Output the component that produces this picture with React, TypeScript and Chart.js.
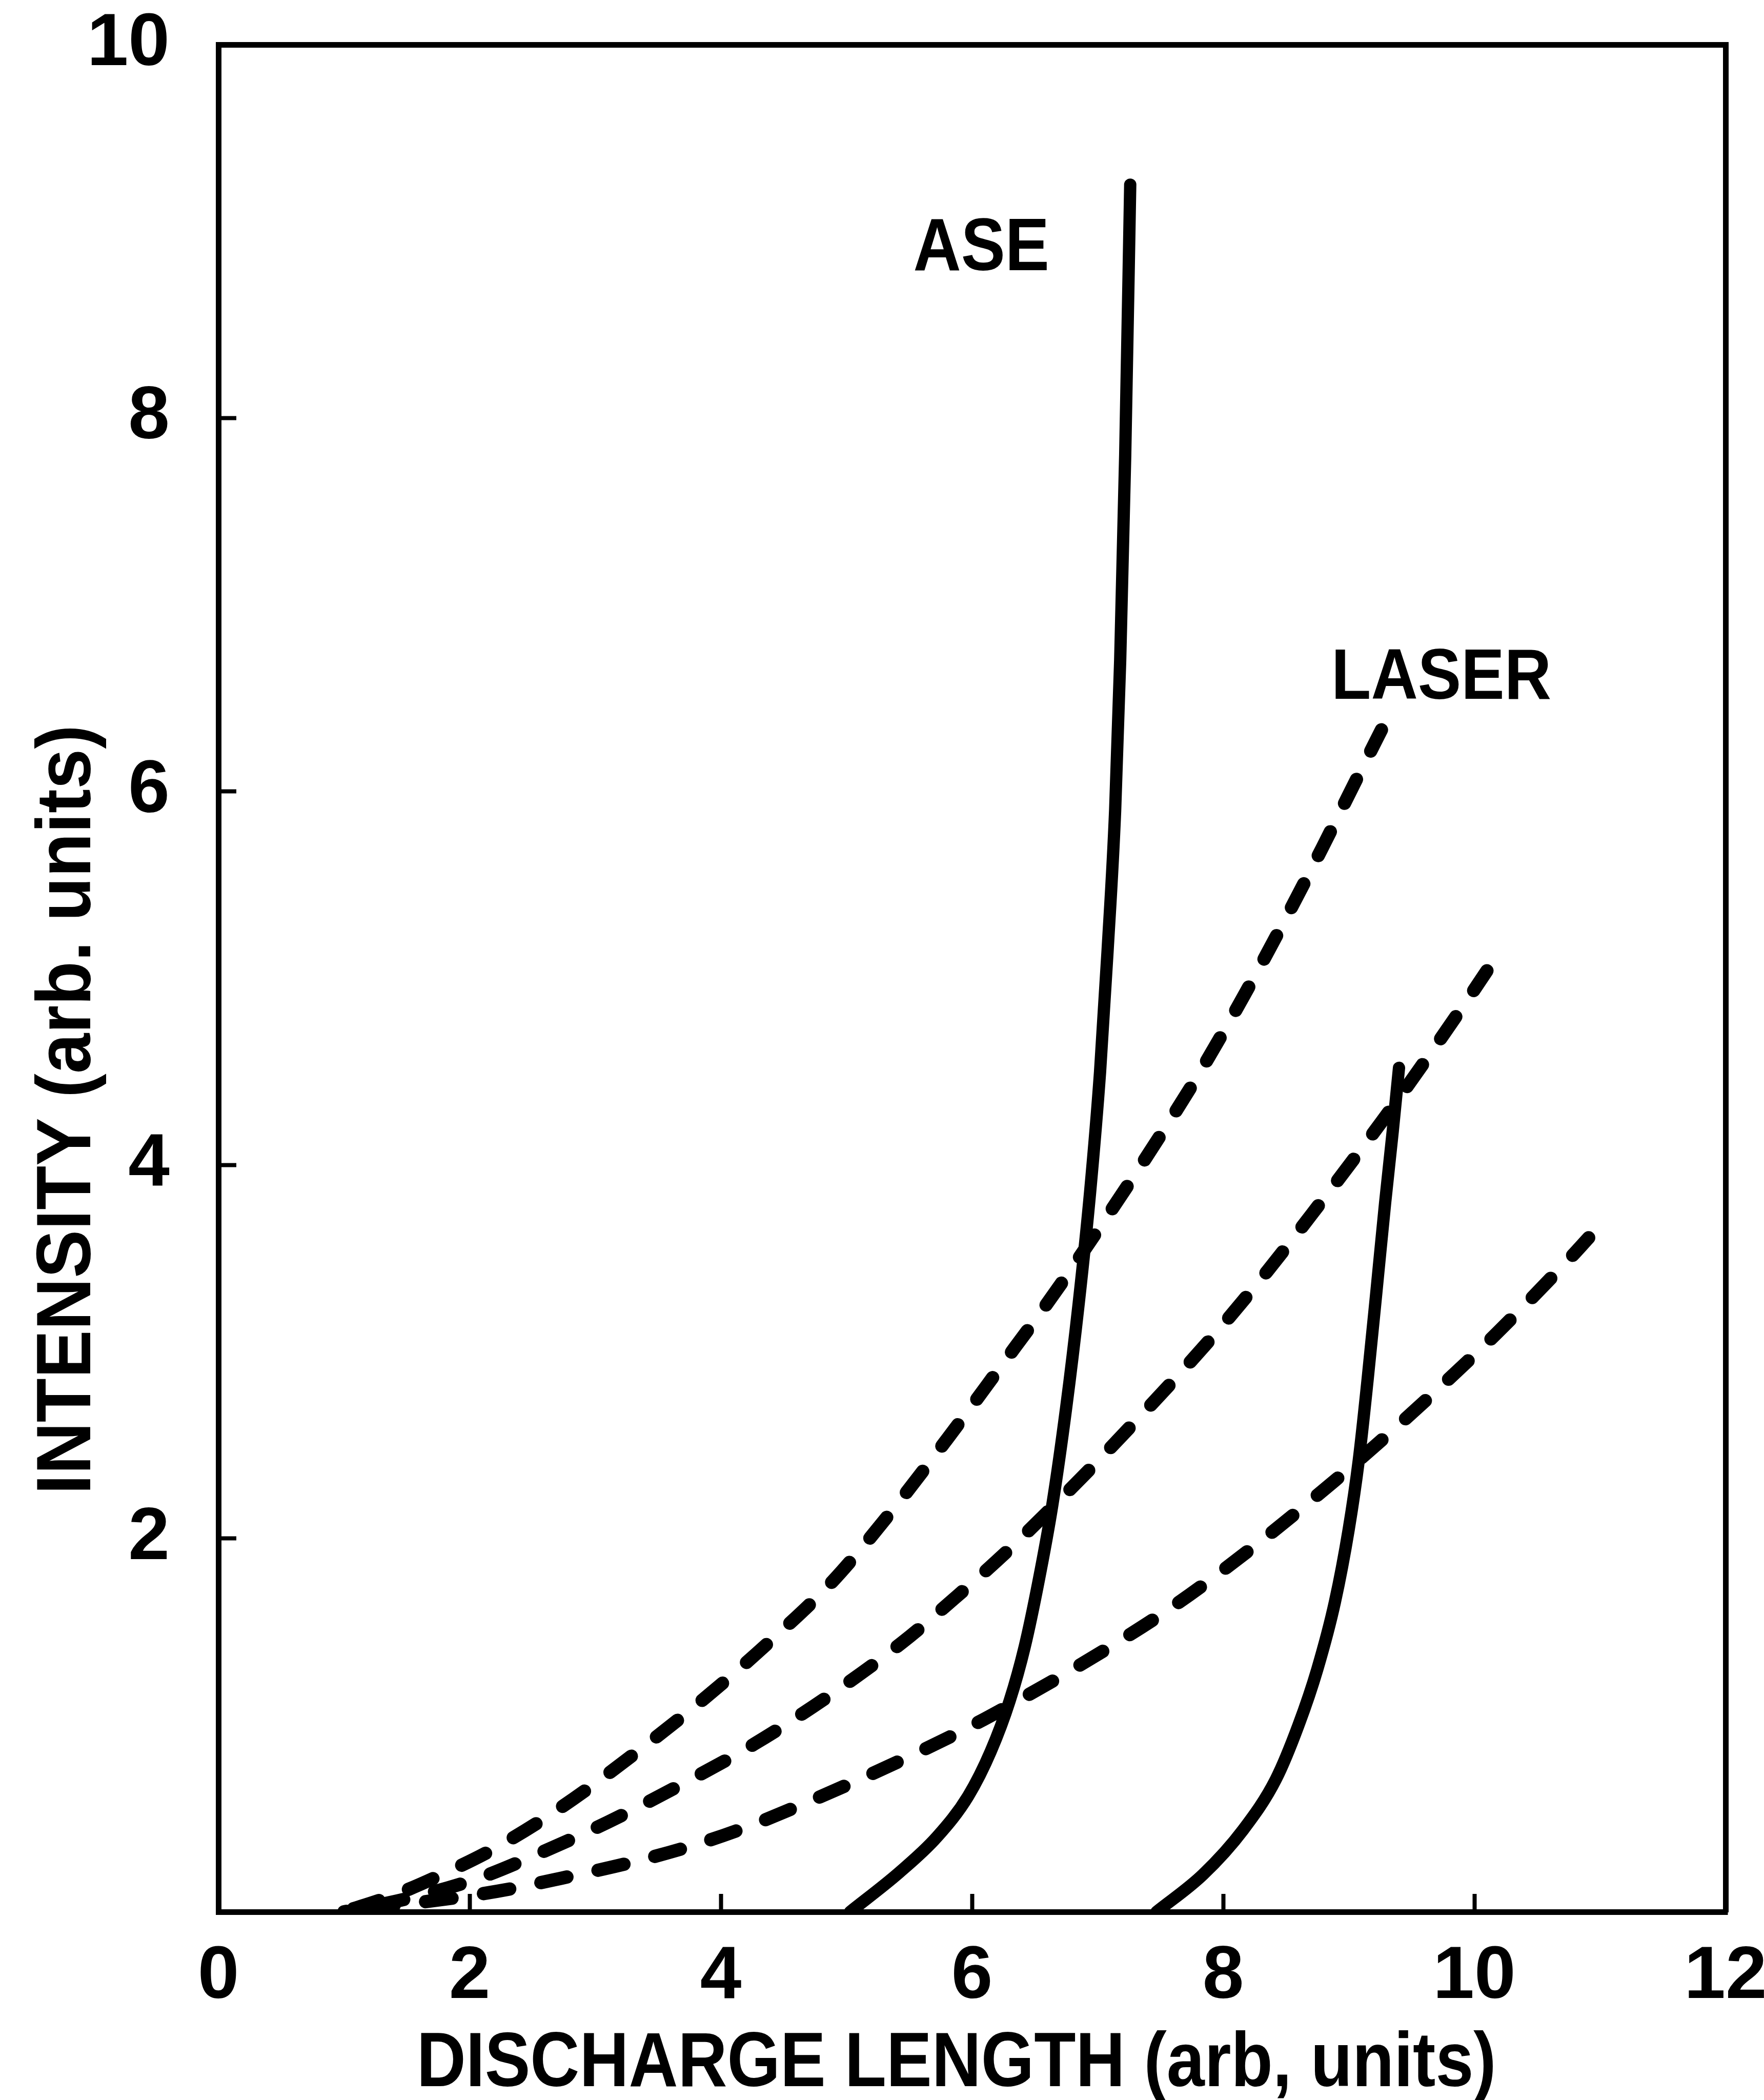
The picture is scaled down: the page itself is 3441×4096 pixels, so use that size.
import React, { useEffect, useRef } from 'react';
import { Chart, registerables } from 'chart.js';

Chart.register(...registerables);

// ---------- data ----------
const xMin = 0;
const xMax = 12;
const yMin = 0;
const yMax = 10;
const xTickValues = [0, 2, 4, 6, 8, 10, 12];
const yTickValues = [2, 4, 6, 8, 10];

const xAxisTitle = 'DISCHARGE LENGTH (arb, units)';
const yAxisTitle = 'INTENSITY (arb. units)';

// solid curve on the left (ASE)
const aseX = [5.03, 5.42, 5.72, 5.97, 6.15, 6.30, 6.42, 6.53, 6.64, 6.75, 6.85, 6.94, 7.02, 7.08, 7.14, 7.18, 7.22, 7.26];
const aseY = [0, 0.21, 0.40, 0.62, 0.86, 1.13, 1.42, 1.77, 2.18, 2.70, 3.26, 3.85, 4.50, 5.15, 5.90, 6.70, 7.80, 9.25];

// solid curve on the right
const ase2X = [7.47, 7.84, 8.16, 8.42, 8.60, 8.75, 8.89, 9.00, 9.08, 9.15, 9.22, 9.29, 9.35, 9.40];
const ase2Y = [0, 0.20, 0.44, 0.71, 1.00, 1.30, 1.66, 2.05, 2.42, 2.85, 3.32, 3.80, 4.18, 4.52];

// dashed curves (LASER)
const laserUpperX = [1.0, 1.4, 1.78, 2.2, 2.73, 3.32, 3.90, 4.41, 4.89, 5.33, 5.80, 6.24, 6.59, 6.88, 7.25, 7.54, 7.80, 8.16, 8.49, 8.79, 9.08, 9.26];
const laserUpperY = [0, 0.09, 0.20, 0.34, 0.56, 0.85, 1.16, 1.46, 1.77, 2.12, 2.53, 2.93, 3.25, 3.53, 3.90, 4.20, 4.48, 4.90, 5.31, 5.70, 6.09, 6.33];

const laserMiddleX = [1.0, 1.5, 2.07, 2.51, 3.10, 3.68, 4.27, 4.89, 5.44, 5.88, 6.31, 6.88, 7.25, 7.61, 7.98, 8.35, 8.71, 9.26, 9.59, 9.95, 10.10];
const laserMiddleY = [0, 0.07, 0.18, 0.30, 0.48, 0.68, 0.90, 1.17, 1.44, 1.69, 1.95, 2.33, 2.59, 2.85, 3.13, 3.43, 3.74, 4.23, 4.54, 4.89, 5.04];

const laserLowerX = [1.0, 1.6, 2.22, 2.73, 3.32, 3.80, 4.19, 4.63, 5.14, 5.62, 5.98, 6.31, 6.88, 7.61, 8.27, 8.89, 9.15, 9.63, 10.18, 10.76, 10.91];
const laserLowerY = [0, 0.05, 0.11, 0.18, 0.27, 0.36, 0.45, 0.57, 0.72, 0.87, 0.99, 1.11, 1.33, 1.64, 1.97, 2.31, 2.46, 2.75, 3.10, 3.50, 3.61];

// in-plot labels (position in data units)
const noteLabels = ['ASE', 'LASER'];
const noteX = [6.07, 9.75];
const noteY = [8.93, 6.63];

// ---------- styles / layout ----------
const FONT = "'Liberation Sans', Arial, sans-serif";
const W = 3441;
const H = 4096;
const AREA = { left: 426, right: 3366, top: 87, bottom: 3729 };
const noteStyle = { ink: [258, 419], cap: [101, 98] };
const titleStyle = {
  x: { dx: -29, dy: 287, ink: 2091, cap: 105 },
  y: { dx: -303, dy: 255, ink: 1485, cap: 105 },
};
const DASH = 52;
const GAP = 62;
const DASH_END_PHASE = 46;

const toPts = (xs: number[], ys: number[]) => xs.map((x, i) => ({ x, y: ys[i] }));

// offset the dash pattern so that each dashed curve ends on a dash
function dashOffsetFor(xs: number[], ys: number[]) {
  const sx = (AREA.right - AREA.left) / (xMax - xMin);
  const sy = (AREA.bottom - AREA.top) / (yMax - yMin);
  let L = 0;
  for (let i = 1; i < xs.length; i++) {
    L += Math.hypot((xs[i] - xs[i - 1]) * sx, (ys[i] - ys[i - 1]) * sy);
  }
  const period = DASH + GAP;
  return (((DASH_END_PHASE - L) % period) + period) % period;
}

function drawFitted(ctx: CanvasRenderingContext2D, text: string, cx: number, cy: number, inkW: number, capH: number, rot: number) {
  ctx.font = `bold 100px ${FONT}`;
  const capRatio = ctx.measureText('H').actualBoundingBoxAscent / 100;
  const size = capH / capRatio;
  ctx.font = `bold ${size}px ${FONT}`;
  const m = ctx.measureText(text);
  const ink = m.actualBoundingBoxLeft + m.actualBoundingBoxRight;
  const sx = inkW / ink;
  ctx.save();
  ctx.translate(cx, cy);
  ctx.rotate(rot);
  ctx.scale(sx, 1);
  ctx.textAlign = 'left';
  ctx.textBaseline = 'alphabetic';
  ctx.fillStyle = '#000';
  ctx.fillText(text, -ink / 2 + m.actualBoundingBoxLeft, capH / 2);
  ctx.restore();
}

const textPlugin = {
  id: 'freeText',
  afterDraw(chart: any) {
    const ctx = chart.ctx as CanvasRenderingContext2D;
    const a = chart.chartArea;
    const xs = chart.scales.x;
    const ys = chart.scales.y;
    const midX = (a.left + a.right) / 2;
    const midY = (a.top + a.bottom) / 2;
    drawFitted(ctx, xAxisTitle, midX + titleStyle.x.dx, a.bottom + titleStyle.x.dy, titleStyle.x.ink, titleStyle.x.cap, 0);
    drawFitted(ctx, yAxisTitle, a.left + titleStyle.y.dx, midY + titleStyle.y.dy, titleStyle.y.ink, titleStyle.y.cap, -Math.PI / 2);
    noteLabels.forEach((t, i) => {
      drawFitted(ctx, t, xs.getPixelForValue(noteX[i]), ys.getPixelForValue(noteY[i]), noteStyle.ink[i], noteStyle.cap[i], 0);
    });
  },
};

const solid = { borderColor: '#000', borderWidth: 24, borderCapStyle: 'round', borderJoinStyle: 'round', pointRadius: 0, cubicInterpolationMode: 'monotone', fill: false };
const dashed = { ...solid, borderWidth: 26, borderDash: [DASH, GAP] };

export default function App() {
  const ref = useRef<HTMLCanvasElement>(null);
  useEffect(() => {
    if (!ref.current) return;
    const tickFont = { family: FONT, size: 145, weight: 'bold' as const };
    const chart = new Chart(ref.current, {
      type: 'line',
      data: {
        datasets: [
          { label: 'ASE 1', data: toPts(aseX, aseY), ...solid } as any,
          { label: 'ASE 2', data: toPts(ase2X, ase2Y), ...solid } as any,
          { label: 'LASER upper', data: toPts(laserUpperX, laserUpperY), ...dashed, borderDashOffset: dashOffsetFor(laserUpperX, laserUpperY) } as any,
          { label: 'LASER middle', data: toPts(laserMiddleX, laserMiddleY), ...dashed, borderDashOffset: dashOffsetFor(laserMiddleX, laserMiddleY) } as any,
          { label: 'LASER lower', data: toPts(laserLowerX, laserLowerY), ...dashed, borderDashOffset: dashOffsetFor(laserLowerX, laserLowerY) } as any,
        ],
      },
      options: {
        responsive: false,
        devicePixelRatio: 1,
        animation: false,
        layout: { padding: { left: 0, top: AREA.top, right: W - AREA.right, bottom: 0 } },
        plugins: { legend: { display: false }, tooltip: { enabled: false } },
        scales: {
          x: {
            type: 'linear',
            position: 'bottom',
            min: xMin,
            max: xMax,
            afterBuildTicks: (s: any) => { s.ticks = xTickValues.map((v) => ({ value: v })); },
            afterFit: (s: any) => { s.height = H - AREA.bottom; s.paddingLeft = 0; s.paddingRight = 0; },
            ticks: { font: tickFont, color: '#000', padding: 76, maxRotation: 0, autoSkip: false },
            grid: { drawOnChartArea: false, drawTicks: true, tickLength: -35, tickWidth: 8, tickColor: '#000' },
            border: { display: true, color: '#000', width: 11 },
          },
          y: {
            type: 'linear',
            position: 'left',
            min: yMin,
            max: yMax,
            afterBuildTicks: (s: any) => { s.ticks = yTickValues.map((v) => ({ value: v })); },
            afterFit: (s: any) => { s.width = AREA.left; s.paddingTop = 0; s.paddingBottom = 0; },
            ticks: { font: tickFont, color: '#000', padding: 130, autoSkip: false },
            grid: { drawOnChartArea: false, drawTicks: true, tickLength: -35, tickWidth: 8, tickColor: '#000' },
            border: { display: true, color: '#000', width: 11 },
          },
          xTop: {
            type: 'linear',
            position: 'top',
            min: xMin,
            max: xMax,
            afterFit: (s: any) => { s.height = 0; s.paddingLeft = 0; s.paddingRight = 0; },
            ticks: { display: false },
            grid: { drawOnChartArea: false, drawTicks: false },
            border: { display: true, color: '#000', width: 11 },
          },
          yRight: {
            type: 'linear',
            position: 'right',
            min: yMin,
            max: yMax,
            afterFit: (s: any) => { s.width = 0; s.paddingTop = 0; s.paddingBottom = 0; },
            ticks: { display: false },
            grid: { drawOnChartArea: false, drawTicks: false },
            border: { display: true, color: '#000', width: 11 },
          },
        },
      } as any,
      plugins: [textPlugin],
    });
    return () => chart.destroy();
  }, []);
  return (
    <div style={{ position: 'absolute', left: 0, top: 0, width: W, height: H, background: '#fff' }}>
      <canvas ref={ref} width={W} height={H} style={{ display: 'block', width: W, height: H }} />
    </div>
  );
}
